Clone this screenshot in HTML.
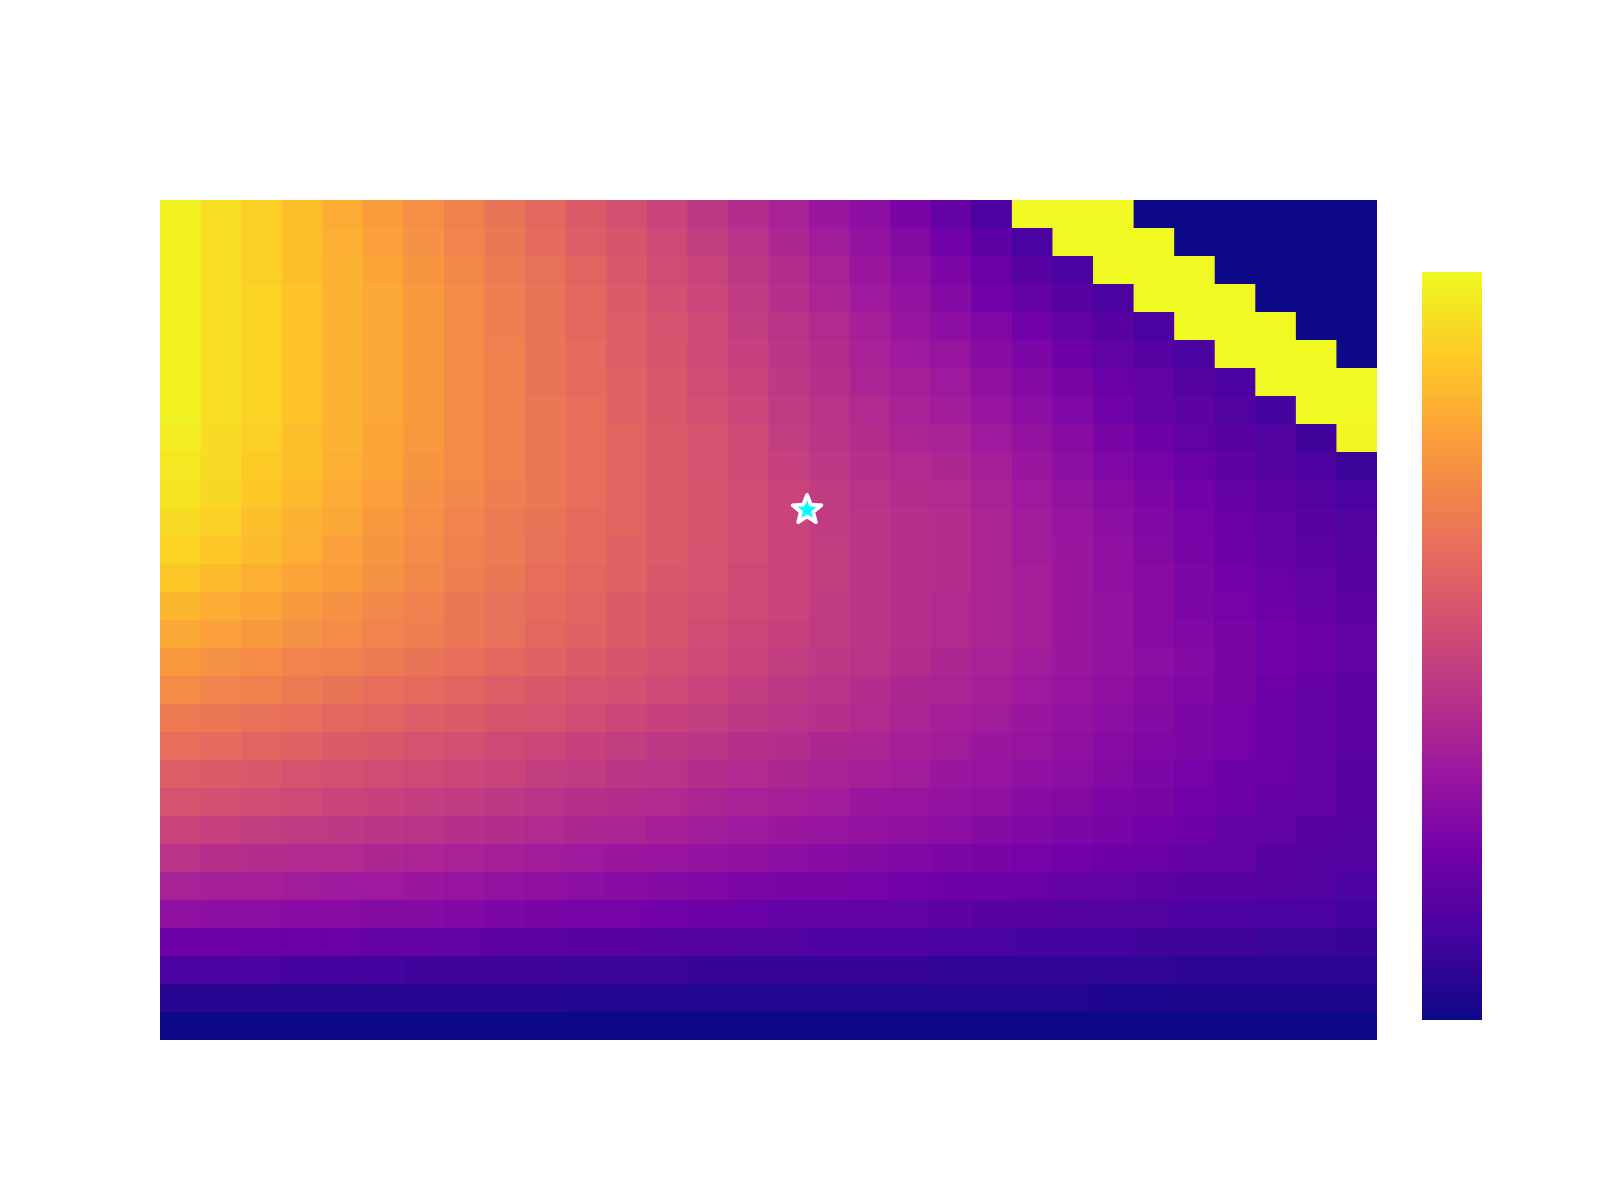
<!DOCTYPE html>
<html>
<head>
<meta charset="utf-8">
<style>
  html, body { margin: 0; padding: 0; background: #ffffff; }
  body { width: 1600px; height: 1200px; overflow: hidden; font-family: "Liberation Sans", sans-serif; }
  svg { display: block; }
</style>
</head>
<body>
<svg id="chart" width="1600" height="1200" viewBox="0 0 1600 1200" xmlns="http://www.w3.org/2000/svg">
  <defs>
    <linearGradient id="cbar-grad" x1="0" y1="1" x2="0" y2="0"></linearGradient>
  </defs>
  <g id="cells"></g>
  <g id="markers"></g>
  <rect id="colorbar" x="1422" y="272" width="60" height="748" fill="url(#cbar-grad)"></rect>
</svg>
<script>
// ---- data (normalized values, rows top->bottom, cols left->right) ----
const nRows = 30;
const nCols = 30;
const row00 = [.98,.94,.90,.86,.81,.77,.73,.69,.65,.61,.57,.53,.49,.45,.41,.37,.33,.29,.24,.19,.13,1,1,1,0,0,0,0,0,0];
const row01 = [.98,.94,.90,.86,.82,.78,.74,.70,.66,.62,.58,.55,.51,.47,.43,.39,.35,.31,.27,.22,.17,.12,1,1,1,0,0,0,0,0];
const row02 = [.98,.94,.90,.86,.83,.79,.75,.71,.67,.64,.60,.56,.52,.49,.45,.41,.37,.33,.29,.25,.20,.16,.12,1,1,1,0,0,0,0];
const row03 = [.98,.94,.91,.87,.83,.80,.76,.72,.68,.65,.61,.57,.53,.50,.46,.42,.38,.34,.31,.27,.22,.19,.16,.12,1,1,1,0,0,0];
const row04 = [.98,.94,.91,.87,.83,.80,.76,.72,.68,.65,.61,.58,.54,.51,.47,.43,.40,.36,.32,.29,.26,.22,.19,.16,.12,1,1,1,0,0];
const row05 = [.98,.94,.91,.87,.83,.80,.76,.72,.69,.65,.62,.58,.55,.51,.48,.44,.41,.37,.34,.32,.28,.25,.21,.18,.15,.12,1,1,1,0];
const row06 = [.98,.94,.91,.87,.83,.80,.76,.72,.69,.65,.62,.59,.56,.52,.49,.45,.42,.38,.36,.34,.30,.27,.24,.20,.18,.15,.12,1,1,1];
const row07 = [.98,.94,.91,.87,.83,.80,.76,.72,.69,.66,.63,.59,.56,.53,.50,.46,.43,.40,.37,.35,.32,.29,.26,.22,.19,.17,.14,.11,1,1];
const row08 = [.97,.93,.90,.86,.83,.79,.76,.72,.69,.66,.63,.60,.57,.54,.51,.47,.44,.41,.38,.37,.34,.31,.28,.24,.21,.18,.16,.14,.10,.99];
const row09 = [.96,.93,.89,.86,.82,.79,.75,.72,.69,.66,.63,.60,.57,.54,.51,.48,.45,.42,.40,.39,.36,.33,.29,.26,.23,.20,.17,.15,.13,.09];
const row10 = [.95,.92,.88,.85,.81,.78,.74,.71,.68,.66,.63,.60,.57,.55,.52,.49,.46,.43,.41,.40,.37,.34,.31,.28,.25,.22,.19,.17,.14,.12];
const row11 = [.93,.90,.86,.83,.80,.76,.73,.70,.67,.65,.62,.60,.57,.55,.52,.49,.46,.44,.42,.41,.38,.35,.32,.29,.26,.23,.20,.18,.16,.14];
const row12 = [.91,.88,.85,.82,.78,.75,.72,.69,.67,.64,.62,.59,.57,.54,.52,.49,.47,.44,.42,.41,.38,.35,.33,.30,.27,.24,.21,.19,.17,.15];
const row13 = [.88,.85,.82,.79,.77,.74,.71,.68,.66,.63,.61,.59,.56,.54,.51,.49,.47,.44,.42,.41,.38,.36,.33,.30,.28,.25,.22,.20,.18,.16];
const row14 = [.84,.81,.79,.76,.74,.71,.69,.66,.64,.62,.60,.57,.55,.53,.51,.49,.46,.44,.42,.40,.38,.36,.33,.31,.28,.25,.23,.21,.19,.17];
const row15 = [.80,.78,.76,.74,.72,.70,.68,.66,.64,.61,.59,.57,.55,.52,.50,.48,.46,.44,.42,.40,.38,.36,.33,.31,.28,.26,.24,.22,.20,.18];
const row16 = [.76,.74,.72,.70,.69,.67,.65,.63,.61,.59,.57,.55,.53,.51,.49,.47,.45,.43,.41,.39,.37,.35,.33,.31,.29,.27,.24,.22,.20,.18];
const row17 = [.72,.70,.69,.67,.65,.63,.62,.60,.58,.56,.54,.53,.51,.49,.47,.45,.43,.41,.39,.38,.36,.34,.32,.30,.28,.26,.24,.21,.19,.17];
const row18 = [.67,.66,.64,.63,.61,.60,.58,.57,.55,.54,.52,.50,.48,.47,.45,.43,.42,.40,.38,.36,.35,.33,.31,.29,.27,.25,.23,.21,.19,.17];
const row19 = [.63,.62,.60,.59,.57,.56,.54,.53,.51,.50,.48,.47,.45,.44,.42,.41,.39,.38,.36,.35,.33,.32,.30,.28,.26,.25,.23,.21,.19,.17];
const row20 = [.58,.57,.56,.54,.53,.52,.51,.50,.49,.47,.46,.44,.43,.41,.40,.39,.37,.36,.35,.33,.32,.30,.29,.27,.25,.23,.21,.20,.18,.16];
const row21 = [.54,.53,.52,.51,.49,.48,.47,.46,.45,.43,.42,.41,.40,.38,.37,.36,.35,.33,.32,.31,.30,.28,.27,.25,.24,.22,.21,.19,.18,.16];
const row22 = [.49,.48,.47,.46,.45,.44,.43,.42,.41,.40,.39,.38,.36,.35,.34,.33,.32,.31,.30,.29,.27,.26,.25,.24,.22,.21,.19,.18,.16,.15];
const row23 = [.43,.42,.41,.40,.40,.39,.38,.37,.36,.35,.34,.33,.32,.31,.30,.29,.28,.27,.26,.25,.24,.23,.22,.21,.20,.19,.18,.16,.15,.14];
const row24 = [.37,.36,.36,.35,.34,.34,.33,.32,.31,.30,.29,.28,.27,.26,.25,.24,.24,.23,.22,.21,.21,.20,.19,.18,.17,.16,.16,.15,.14,.13];
const row25 = [.30,.29,.29,.28,.28,.27,.27,.26,.25,.24,.23,.23,.22,.21,.20,.19,.19,.18,.18,.17,.16,.16,.15,.14,.14,.13,.13,.12,.12,.11];
const row26 = [.21,.21,.20,.20,.20,.19,.19,.18,.17,.17,.16,.16,.15,.15,.14,.14,.13,.13,.13,.12,.12,.11,.11,.11,.10,.10,.10,.09,.09,.08];
const row27 = [.12,.12,.12,.11,.11,.11,.10,.10,.10,.10,.09,.09,.09,.08,.08,.08,.08,.08,.08,.07,.07,.07,.07,.07,.07,.06,.06,.06,.06,.06];
const row28 = [.05,.05,.05,.05,.05,.05,.05,.05,.05,.05,.04,.04,.04,.04,.04,.04,.04,.04,.04,.04,.04,.04,.04,.035,.035,.03,.03,.03,.03,.03];
const row29 = [0,0,0,0,0,0,0,0,0,0,0,0,0,0,0,0,0,0,0,0,0,0,0,0,0,0,0,0,0,0];
const gridValues = [row00,row01,row02,row03,row04,row05,row06,row07,row08,row09,row10,row11,row12,row13,row14,row15,row16,row17,row18,row19,row20,row21,row22,row23,row24,row25,row26,row27,row28,row29];
// optimum marker position (in cell units)
const starCol = [15.95];
const starRow = [11.07];

// ---- layout & scales ----
const plotX0 = 160, plotX1 = 1377, plotY0 = 200, plotY1 = 1040;
function xScale(c) { return plotX0 + (plotX1 - plotX0) * c / nCols; }
function yScale(r) { return plotY0 + (plotY1 - plotY0) * r / nRows; }

const plasmaStops = ["#0d0887","#46039f","#7201a8","#9c179e","#bd3786","#d8576b","#ed7953","#fb9f3a","#fdca26","#f0f921"];
function hexToRgb(h) { return [parseInt(h.slice(1,3),16), parseInt(h.slice(3,5),16), parseInt(h.slice(5,7),16)]; }
function plasma(v) {
  v = Math.max(0, Math.min(1, v));
  const p = v * (plasmaStops.length - 1);
  const i = Math.min(Math.floor(p), plasmaStops.length - 2);
  const t = p - i;
  const a = hexToRgb(plasmaStops[i]), b = hexToRgb(plasmaStops[i+1]);
  const c = a.map((x, k) => Math.round(x + (b[k] - x) * t));
  return "rgb(" + c.join(",") + ")";
}

const NS = "http://www.w3.org/2000/svg";
const cells = document.getElementById("cells");
for (let r = 0; r < nRows; r++) {
  for (let c = 0; c < nCols; c++) {
    const x0 = xScale(c), x1 = xScale(c + 1), y0 = yScale(r), y1 = yScale(r + 1);
    const rect = document.createElementNS(NS, "rect");
    rect.setAttribute("x", x0.toFixed(2));
    rect.setAttribute("y", y0.toFixed(2));
    rect.setAttribute("width", (x1 - x0 + (c < nCols - 1 ? 0.6 : 0)).toFixed(2));
    rect.setAttribute("height", (y1 - y0 + (r < nRows - 1 ? 0.6 : 0)).toFixed(2));
    rect.setAttribute("fill", plasma(gridValues[r][c]));
    
    
    cells.appendChild(rect);
  }
}

// colorbar gradient
const grad = document.getElementById("cbar-grad");
plasmaStops.forEach((col, i) => {
  const s = document.createElementNS(NS, "stop");
  s.setAttribute("offset", (i / (plasmaStops.length - 1)).toFixed(4));
  s.setAttribute("stop-color", col);
  grad.appendChild(s);
});

// star marker
const markers = document.getElementById("markers");
starCol.forEach((sc, i) => {
  const cx = xScale(sc), cy = yScale(starRow[i]);
  const pts = [];
  for (let k = 0; k < 10; k++) {
    const rad = (k % 2 === 0) ? 15 : 6.5;
    const ang = -Math.PI / 2 + k * Math.PI / 5;
    pts.push((cx + rad * Math.cos(ang)).toFixed(2) + "," + (cy + rad * Math.sin(ang)).toFixed(2));
  }
  const star = document.createElementNS(NS, "polygon");
  star.setAttribute("points", pts.join(" "));
  star.setAttribute("fill", "#00ffff");
  star.setAttribute("stroke", "#ffffff");
  star.setAttribute("stroke-width", "3.8");
  star.setAttribute("stroke-linejoin", "round");
  
  
  markers.appendChild(star);
});
</script>
</body>
</html>
